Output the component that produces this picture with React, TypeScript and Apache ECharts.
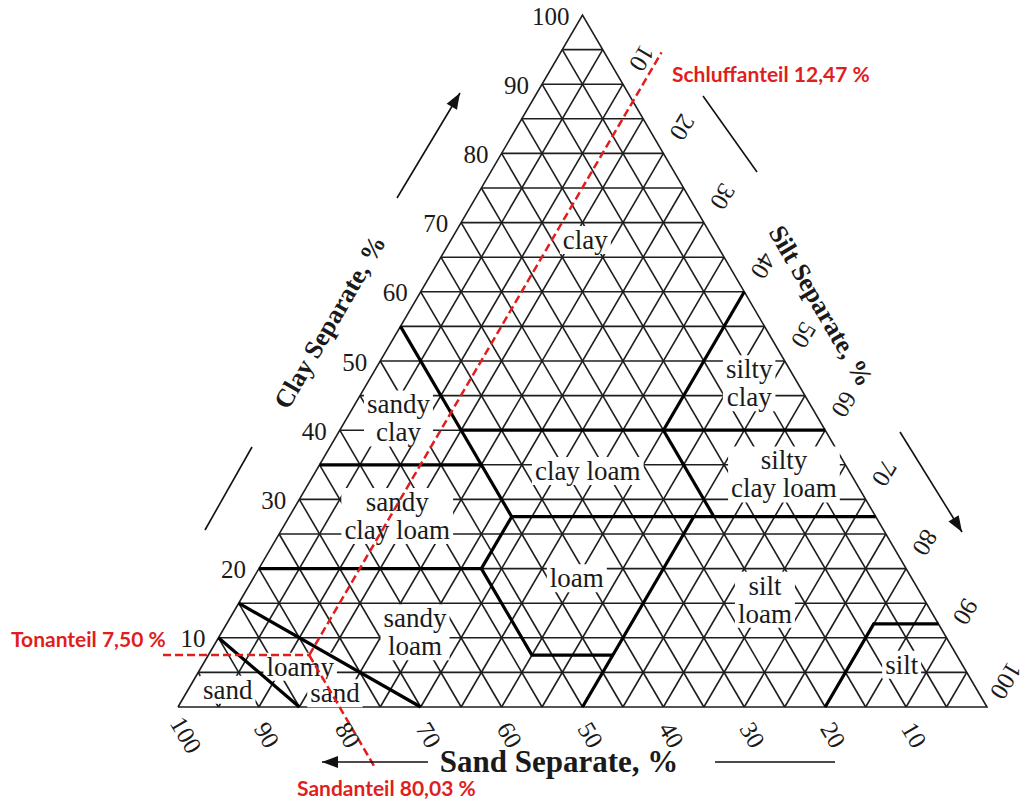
import React, { useEffect, useRef } from 'react';
import * as echarts from 'echarts';

// Ternary compositions are written as [sand, silt, clay] in percent.
type Tern = [number, number, number];

// Sample composition marked with the red guide lines
const sampleSand = 80.03;
const sampleSilt = 12.47;
const sampleClay = 7.5;

// Axis tick values along the three sides
const clayTicks = [10, 20, 30, 40, 50, 60, 70, 80, 90, 100];
const sandTicks = [10, 20, 30, 40, 50, 60, 70, 80, 90, 100];
const siltTicks = [10, 20, 30, 40, 50, 60, 70, 80, 90, 100];
const gridStep = 5;

// USDA texture class boundaries (polylines)
const classBoundaries: Tern[][] = [
  [[45, 0, 55], [45, 15, 40]],
  [[45, 15, 40], [0, 60, 40]],
  [[20, 40, 40], [0, 40, 60]],
  [[65, 0, 35], [45, 20, 35]],
  [[45, 15, 40], [45, 27.5, 27.5]],
  [[45, 27.5, 27.5], [0, 72.5, 27.5]],
  [[20, 40, 40], [20, 52.5, 27.5]],
  [[80, 0, 20], [52.5, 27.5, 20]],
  [[45, 27.5, 27.5], [52.5, 27.5, 20]],
  [[52.5, 27.5, 20], [52.5, 40, 7.5], [42.5, 50, 7.5]],
  [[22.5, 50, 27.5], [50, 50, 0]],
  [[20, 80, 0], [8, 80, 12], [0, 88, 12]],
  [[85, 0, 15], [70, 30, 0]],
  [[90, 0, 10], [85, 15, 0]],
];

// Texture class names and the composition each name is centred on
const classNames = [
  'clay', 'silty\nclay', 'sandy\nclay', 'clay loam', 'silty\nclay loam',
  'sandy\nclay loam', 'loam', 'silt\nloam', 'sandy\nloam', 'loamy', 'sand', 'sand', 'silt',
];
const classAnchors: Tern[] = [
  [15.9, 16.6, 67.5],
  [6.0, 47.2, 46.8],
  [51.9, 6.4, 41.7],
  [32.3, 33.6, 34.1],
  [8.3, 58.1, 33.6],
  [59.1, 13.3, 27.6],
  [41.4, 40.0, 18.6],
  [19.7, 64.8, 15.5],
  [65.3, 23.9, 10.8],
  [82.0, 12.2, 5.8],
  [92.6, 4.9, 2.5],
  [79.6, 18.4, 2.0],
  [7.5, 86.4, 6.1],
];

// How far the red guide lines run past the triangle
const tonLineStartSilt = -5.6;
const siltLineEndClay = 94.6;
const sandLineEndClay = -8.8;

const RED = '#e01e1e';
const SERIF = '"Liberation Serif", "Times New Roman", serif';

const toXY = (t: Tern): [number, number] => [t[1] + t[2] / 2, t[2]];

function buildGridLines() {
  const segs: { coords: [number, number][] }[] = [];
  for (let k = gridStep; k < 100; k += gridStep) {
    segs.push({ coords: [toXY([100 - k, 0, k]), toXY([0, 100 - k, k])] });
    segs.push({ coords: [toXY([k, 100 - k, 0]), toXY([k, 0, 100 - k])] });
    segs.push({ coords: [toXY([100 - k, k, 0]), toXY([0, k, 100 - k])] });
  }
  segs.push({ coords: [toXY([100, 0, 0]), toXY([0, 100, 0]), toXY([0, 0, 100]), toXY([100, 0, 0])] });
  return segs;
}

function arrowHead(tail: number[], tip: number[], len = 16, half = 6) {
  const dx = tip[0] - tail[0];
  const dy = tip[1] - tail[1];
  const d = Math.hypot(dx, dy);
  const ux = dx / d;
  const uy = dy / d;
  const bx = tip[0] - ux * len;
  const by = tip[1] - uy * len;
  return [
    [tip[0], tip[1]],
    [bx - uy * half, by + ux * half],
    [bx + uy * half, by - ux * half],
  ];
}

const App = () => {
  const ref = useRef<HTMLDivElement>(null);

  useEffect(() => {
    document.body.style.margin = '0';
    const chart = echarts.init(ref.current!, null, { renderer: 'svg' });

    const samplePoint: Tern = [sampleSand, sampleSilt, sampleClay];
    const tonLine: Tern[] = [
      [100 - tonLineStartSilt - sampleClay, tonLineStartSilt, sampleClay],
      samplePoint,
    ];
    const siltLine: Tern[] = [
      samplePoint,
      [100 - sampleSilt - siltLineEndClay, sampleSilt, siltLineEndClay],
    ];
    const sandLine: Tern[] = [
      samplePoint,
      [sampleSand, 100 - sampleSand - sandLineEndClay, sandLineEndClay],
    ];

    chart.setOption({
      animation: false,
      backgroundColor: '#ffffff',
      grid: { left: 178, top: 15, width: 809, height: 692, containLabel: false },
      xAxis: { type: 'value', min: 0, max: 100, show: false },
      yAxis: { type: 'value', min: 0, max: 100, show: false },
      series: [
        {
          type: 'lines',
          coordinateSystem: 'cartesian2d',
          polyline: true,
          clip: false,
          silent: true,
          z: 1,
          lineStyle: { color: '#1e1e1e', width: 1.6, opacity: 1 },
          data: buildGridLines(),
        },
        {
          type: 'lines',
          coordinateSystem: 'cartesian2d',
          polyline: true,
          clip: false,
          silent: true,
          z: 6,
          lineStyle: { color: '#000', width: 3.2, opacity: 1 },
          data: classBoundaries.map((b) => ({ coords: b.map(toXY) })),
        },
        {
          type: 'lines',
          coordinateSystem: 'cartesian2d',
          polyline: true,
          clip: false,
          silent: true,
          z: 10,
          lineStyle: { color: RED, width: 2.5, type: [8, 4], opacity: 1 },
          data: [tonLine, siltLine, sandLine].map((l) => ({ coords: l.map(toXY) })),
        },
      ],
    });

    const px = (t: Tern) => chart.convertToPixel({ gridIndex: 0 }, toXY(t)) as number[];
    const bl = px([100, 0, 0]);
    const apex = px([0, 0, 100]);
    const theta = Math.atan2(bl[1] - apex[1], apex[0] - bl[0]);

    const text = (s: string, x: number, y: number, font: string, o: any = {}) => ({
      type: 'text',
      x,
      y,
      rotation: o.rotation || 0,
      z: o.z ?? 20,
      silent: true,
      style: {
        text: s,
        fill: o.fill || '#1a1a1a',
        font,
        align: o.align || 'center',
        verticalAlign: 'middle',
        backgroundColor: o.bg,
        padding: o.padding,
        lineHeight: o.lineHeight,
      },
    });

    const graphics: any[] = [];
    const tickFont = `25px ${SERIF}`;
    clayTicks.forEach((c) => {
      const p = px([100 - c, 0, c]);
      graphics.push(text(String(c), p[0] - 13, p[1] + 1, tickFont, { align: 'right' }));
    });
    sandTicks.forEach((s) => {
      const p = px([s, 100 - s, 0]);
      graphics.push(text(String(s), p[0] + 8, p[1] + 28, tickFont, { rotation: -theta }));
    });
    siltTicks.forEach((v) => {
      const p = px([0, v, 100 - v]);
      graphics.push(text(String(v), p[0] + 19, p[1] - 26, tickFont, { rotation: theta - Math.PI }));
    });

    const classFont = `27px ${SERIF}`;
    classNames.forEach((name, i) => {
      const p = px(classAnchors[i]);
      graphics.push(
        text(name, p[0], p[1], classFont, {
          bg: '#ffffff',
          padding: [0, 3],
          lineHeight: 28,
          z: 5,
        }),
      );
    });

    const titleFont = `bold 26px ${SERIF}`;
    graphics.push(text('Clay Separate, %', 330, 322, titleFont, { rotation: theta }));
    graphics.push(text('Silt Separate, %', 821, 306, titleFont, { rotation: -theta }));
    graphics.push(text('Sand Separate, %', 559, 761, `bold 31px ${SERIF}`));

    const redFont = 'bold 21px Lato, "Liberation Sans", sans-serif';
    graphics.push(text('Schluffanteil 12,47 %', 672, 73, redFont, { fill: RED, align: 'left' }));
    graphics.push(text('Tonanteil 7,50 %', 11, 638, redFont, { fill: RED, align: 'left' }));
    graphics.push(text('Sandanteil 80,03 %', 297, 787, redFont, { fill: RED, align: 'left' }));

    // direction arrows and plain guide strokes beside the axis titles
    const stroke = { stroke: '#111', lineWidth: 1.6 };
    const arrows = [
      { tail: [397, 198], tip: [460, 93] },
      { tail: [900, 432], tip: [962, 532] },
      { tail: [428, 762], tip: [322, 762] },
    ];
    arrows.forEach((a) => {
      graphics.push({ type: 'line', z: 20, silent: true, shape: { x1: a.tail[0], y1: a.tail[1], x2: a.tip[0], y2: a.tip[1] }, style: stroke });
      graphics.push({ type: 'polygon', z: 20, silent: true, shape: { points: arrowHead(a.tail, a.tip) }, style: { fill: '#111' } });
    });
    const plain = [
      [205, 530, 252, 447],
      [703, 96, 757, 172],
      [715, 762, 835, 762],
    ];
    plain.forEach((l) => {
      graphics.push({ type: 'line', z: 20, silent: true, shape: { x1: l[0], y1: l[1], x2: l[2], y2: l[3] }, style: stroke });
    });

    chart.setOption({ graphic: graphics });

    return () => chart.dispose();
  }, []);

  return (
    <div
      ref={ref}
      style={{ position: 'absolute', left: 0, top: 0, width: 1027, height: 800, background: '#fff' }}
    />
  );
};

export default App;
